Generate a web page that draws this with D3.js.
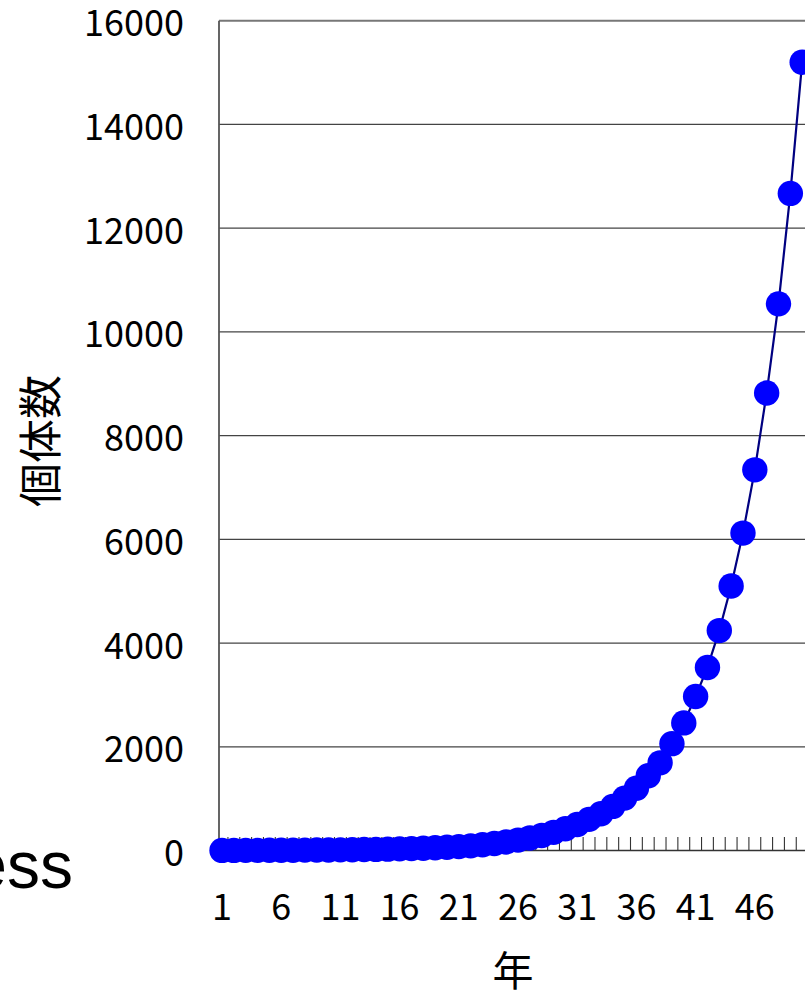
<!DOCTYPE html>
<html>
<head>
<meta charset="utf-8">
<script src="https://cdn.jsdelivr.net/npm/d3@7"></script>
<style>
  html, body { margin: 0; padding: 0; background: #fff; overflow: hidden; }
  svg { display: block; }
</style>
</head>
<body>
<script>
// Year index (categories) and number of individuals per year
const years = d3.range(1, 51);
const population = [
  2, 2, 3, 3, 4, 5, 6, 7, 9, 10,
  12, 15, 18, 21, 26, 31, 37, 44, 53, 62,
  75, 90, 110, 135, 165, 200, 240, 290, 350, 420,
  500, 600, 710, 850, 1010, 1200, 1440, 1690, 2060, 2460,
  2970, 3530, 4240, 5100, 6120, 7340, 8820, 10540, 12670, 15200
];
const yTickValues = [0, 2000, 4000, 6000, 8000, 10000, 12000, 14000, 16000];
const xTickLabels = [1, 6, 11, 16, 21, 26, 31, 36, 41, 46];

const W = 805, H = 995;
const svg = d3.select("body").append("svg")
  .attr("width", W).attr("height", H);

const axisX = 219;       // left value-axis line
const plotTop = 20.7, plotBottom = 850.5;

const x = d3.scaleBand()
  .domain(years)
  .range([216.1, 808.1])
  .padding(0);
const cx = d => x(d) + x.bandwidth() / 2;

const y = d3.scaleLinear()
  .domain([0, 16000])
  .range([plotBottom, plotTop]);

// horizontal gridlines
svg.append("g")
  .selectAll("line")
  .data(yTickValues.filter(v => v > 0))
  .join("line")
  .attr("x1", axisX).attr("x2", W + 10)
  .attr("y1", d => y(d)).attr("y2", d => y(d))
  .attr("stroke", d => d === 16000 ? "#777" : "#444")
  .attr("stroke-width", d => d === 16000 ? 2 : 1.2);

// category tick marks on the horizontal axis (pointing up, between years)
const tickPos = years.slice(1).map(d => x(d)).concat([x(years[years.length - 1]) + x.bandwidth()]);
svg.append("g")
  .selectAll("line")
  .data(tickPos)
  .join("line")
  .attr("x1", d => d).attr("x2", d => d)
  .attr("y1", plotBottom - 13.5).attr("y2", plotBottom)
  .attr("stroke", "#333")
  .attr("stroke-width", 1.1);

// axis lines
svg.append("line")
  .attr("x1", axisX).attr("x2", axisX)
  .attr("y1", plotTop).attr("y2", plotBottom)
  .attr("stroke", "#555").attr("stroke-width", 1.8);
svg.append("line")
  .attr("x1", axisX).attr("x2", W + 10)
  .attr("y1", plotBottom).attr("y2", plotBottom)
  .attr("stroke", "#333").attr("stroke-width", 1.7);

// y tick labels
svg.append("g")
  .selectAll("text")
  .data(yTickValues)
  .join("text")
  .attr("x", 184)
  .attr("y", d => y(d) + 15.5)
  .attr("text-anchor", "end")
  .attr("font-family", "'Noto Sans CJK JP', 'Noto Sans', sans-serif")
  .attr("font-size", 36)
  .attr("fill", "#000")
  .text(d => d);

// x tick labels (every fifth year)
svg.append("g")
  .selectAll("text")
  .data(xTickLabels)
  .join("text")
  .attr("x", d => cx(d))
  .attr("y", 920)
  .attr("text-anchor", "middle")
  .attr("font-family", "'Noto Sans CJK JP', 'Noto Sans', sans-serif")
  .attr("font-size", 36)
  .attr("fill", "#000")
  .text(d => d);

// series line
const line = d3.line()
  .x((d, i) => cx(years[i]))
  .y(d => y(d));
svg.append("path")
  .datum(population)
  .attr("d", line)
  .attr("fill", "none")
  .attr("stroke", "#000080")
  .attr("stroke-width", 2.2);

// series markers
svg.append("g")
  .selectAll("circle")
  .data(population)
  .join("circle")
  .attr("cx", (d, i) => cx(years[i]))
  .attr("cy", d => y(d))
  .attr("r", 12.7)
  .attr("fill", "#0000ff");

// axis titles
svg.append("text")
  .attr("transform", "translate(57,441) rotate(-90)")
  .attr("text-anchor", "middle")
  .attr("font-family", "'Noto Sans CJK JP', sans-serif")
  .attr("font-size", 44)
  .attr("fill", "#000")
  .text("個体数");

svg.append("text")
  .attr("x", 513).attr("y", 986)
  .attr("text-anchor", "middle")
  .attr("font-family", "'Noto Sans CJK JP', sans-serif")
  .attr("font-size", 41)
  .attr("fill", "#000")
  .text("年");

// heading text running in from the left edge
svg.append("text")
  .attr("x", 73).attr("y", 888)
  .attr("text-anchor", "end")
  .attr("font-family", "'Liberation Sans', Arial, sans-serif")
  .attr("font-size", 66)
  .attr("fill", "#000")
  .text("ess");
</script>
</body>
</html>
